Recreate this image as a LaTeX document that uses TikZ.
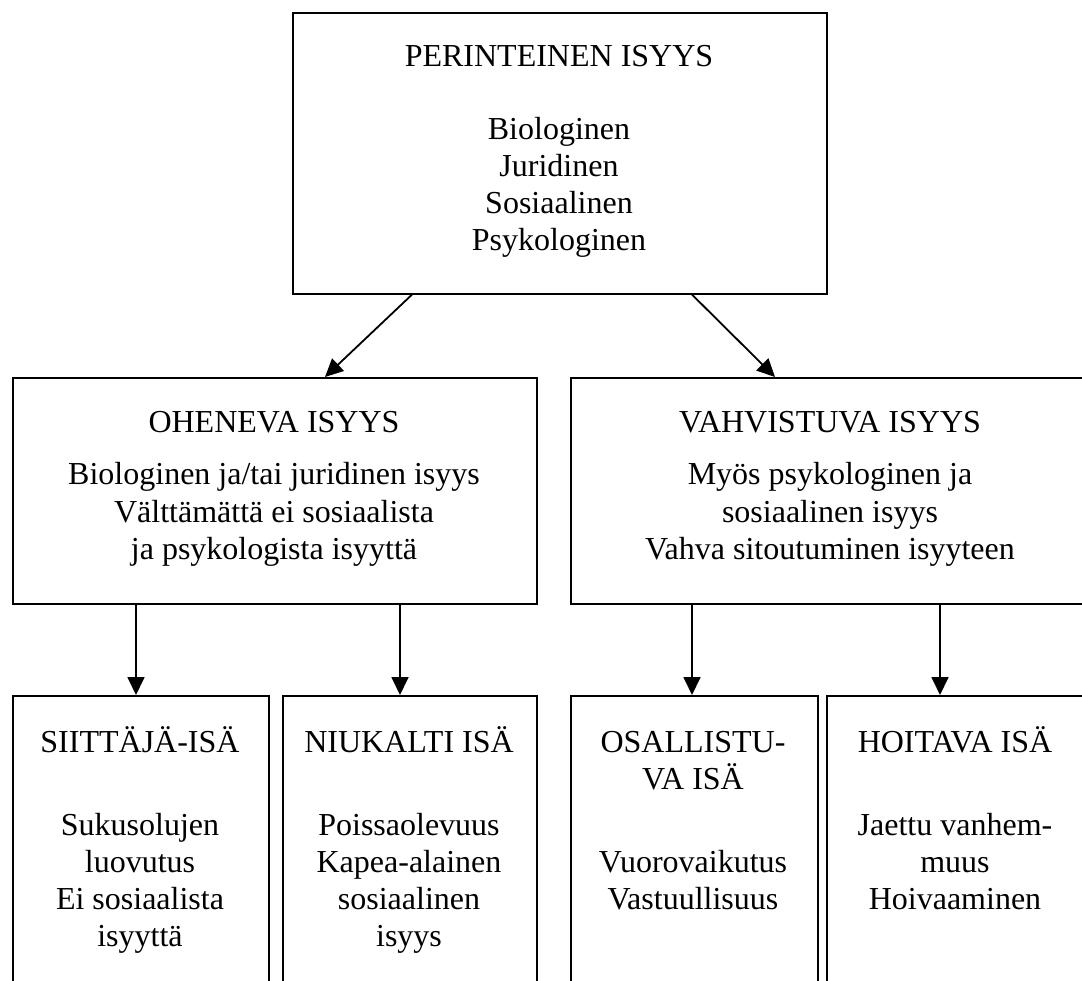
\documentclass[tikz,border=0pt]{standalone}
\usepackage{fontspec}
\setmainfont{Liberation Serif}
\usetikzlibrary{arrows.meta,calc}
\begin{document}
\begin{tikzpicture}[x=1pt,y=-1pt,
  box/.style={draw, line width=1.6pt, rectangle, anchor=north west, inner sep=0pt},
  txt/.style={anchor=base, inner sep=0pt, font=\fontsize{32}{37}\selectfont},
  arr/.style={line width=1.8pt, -{Triangle[length=18pt,width=17pt]}}]
\useasboundingbox (0,0) rectangle (1082,981);
\clip (0,0) rectangle (1082,981);
% boxes
\node[box, minimum width=534pt, minimum height=281pt] (top) at (292,12) {};
\node[box, minimum width=524pt, minimum height=226pt] (ohen) at (12,377) {};
\node[box, minimum width=520pt, minimum height=226pt] (vahv) at (570,377) {};
\node[box, minimum width=256pt, minimum height=330pt] (b1) at (12,695) {};
\node[box, minimum width=254pt, minimum height=330pt] (b2) at (282,695) {};
\node[box, minimum width=247pt, minimum height=330pt] (b3) at (570,695) {};
\node[box, minimum width=258pt, minimum height=330pt] (b4) at (826,695) {};
% texts
\node[txt] (toptitle) at (559,67) {PERINTEINEN ISYYS};
\node[txt] (topbody) at (559,140) {\begin{tabular}[t]{@{}c@{}}Biologinen\\Juridinen\\Sosiaalinen\\Psykologinen\end{tabular}};
\node[txt] (ohentitle) at (274,433) {OHENEVA ISYYS};
\node[txt] (ohenbody) at (274,485) {\begin{tabular}[t]{@{}c@{}}Biologinen ja/tai juridinen isyys\\Välttämättä ei sosiaalista\\ja psykologista isyyttä\end{tabular}};
\node[txt] (vahvtitle) at (830,433) {VAHVISTUVA ISYYS};
\node[txt] (vahvbody) at (830,485) {\begin{tabular}[t]{@{}c@{}}Myös psykologinen ja\\sosiaalinen isyys\\Vahva sitoutuminen isyyteen\end{tabular}};
\node[txt] (b1title) at (140,752) {SIITTÄJÄ-ISÄ};
\node[txt] (b1body) at (140,835) {\begin{tabular}[t]{@{}c@{}}Sukusolujen\\luovutus\\Ei sosiaalista\\isyyttä\end{tabular}};
\node[txt] (b2title) at (409,752) {NIUKALTI ISÄ};
\node[txt] (b2body) at (409,835) {\begin{tabular}[t]{@{}c@{}}Poissaolevuus\\Kapea-alainen\\sosiaalinen\\isyys\end{tabular}};
\node[txt] (b3title) at (693,752) {\begin{tabular}[t]{@{}c@{}}OSALLISTU-\\VA ISÄ\end{tabular}};
\node[txt] (b3body) at (693,872) {\begin{tabular}[t]{@{}c@{}}Vuorovaikutus\\Vastuullisuus\end{tabular}};
\node[txt] (b4title) at (955,752) {HOITAVA ISÄ};
\node[txt] (b4body) at (955,835) {\begin{tabular}[t]{@{}c@{}}Jaettu vanhem-\\muus\\Hoivaaminen\end{tabular}};
% connectors
\draw[arr] ([xshift=120pt]top.south west) -- ([xshift=313pt]ohen.north west);
\draw[arr] ([xshift=400pt]top.south west) -- ([xshift=205pt]vahv.north west);
\draw[arr] ([xshift=124pt]ohen.south west) -- ([xshift=124pt]b1.north west);
\draw[arr] ([xshift=388pt]ohen.south west) -- ([xshift=118pt]b2.north west);
\draw[arr] ([xshift=122pt]vahv.south west) -- ([xshift=122pt]b3.north west);
\draw[arr] ([xshift=370pt]vahv.south west) -- ([xshift=114pt]b4.north west);
\end{tikzpicture}
\end{document}
